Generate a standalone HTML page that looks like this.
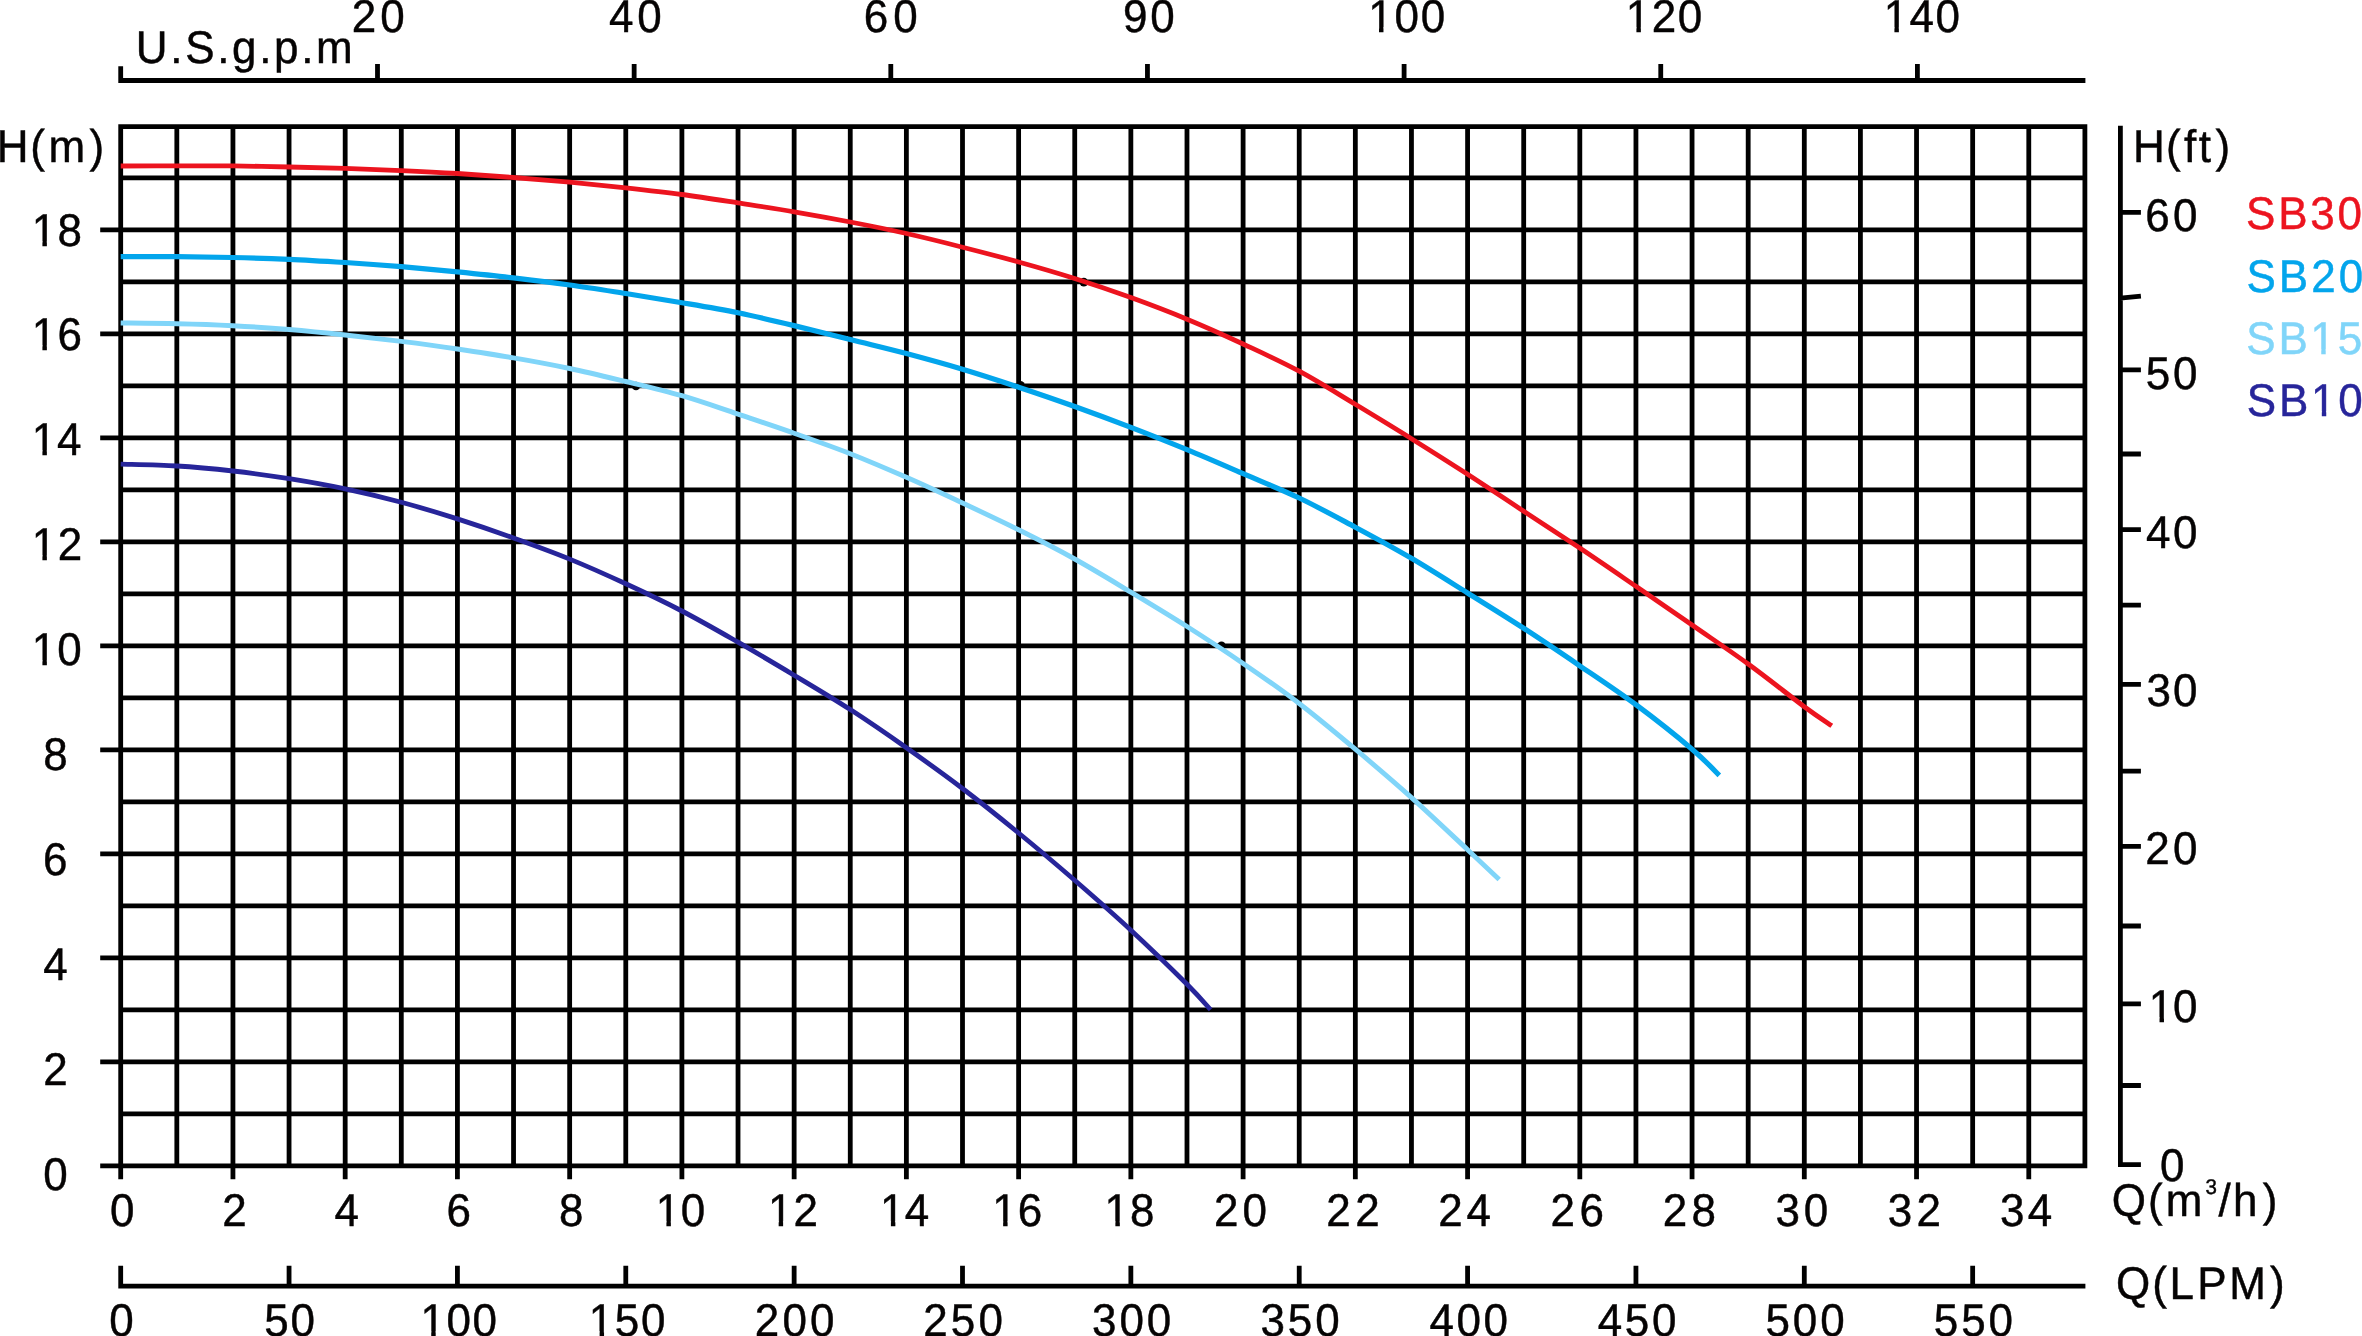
<!DOCTYPE html>
<html><head><meta charset="utf-8"><title>Pump performance curves</title>
<style>
html,body{margin:0;padding:0;background:#fff;}
body{width:2362px;height:1336px;overflow:hidden;}
svg{display:block;font-family:"Liberation Sans",sans-serif;}
text{white-space:pre;text-rendering:geometricPrecision;}
#txt{opacity:0.999;}
</style></head><body>
<svg width="2362" height="1336" viewBox="0 0 2362 1336">
<rect width="2362" height="1336" fill="#fff"/>
<path d="M120.70 124.20V1179.20M176.82 124.20V1168.20M232.94 124.20V1179.20M289.06 124.20V1168.20M345.18 124.20V1179.20M401.30 124.20V1168.20M457.42 124.20V1179.20M513.54 124.20V1168.20M569.66 124.20V1179.20M625.78 124.20V1168.20M681.90 124.20V1179.20M738.02 124.20V1168.20M794.14 124.20V1179.20M850.26 124.20V1168.20M906.38 124.20V1179.20M962.50 124.20V1168.20M1018.62 124.20V1179.20M1074.74 124.20V1168.20M1130.86 124.20V1179.20M1186.98 124.20V1168.20M1243.10 124.20V1179.20M1299.22 124.20V1168.20M1355.34 124.20V1179.20M1411.46 124.20V1168.20M1467.58 124.20V1179.20M1523.70 124.20V1168.20M1579.82 124.20V1179.20M1635.94 124.20V1168.20M1692.06 124.20V1179.20M1748.18 124.20V1168.20M1804.30 124.20V1179.20M1860.42 124.20V1168.20M1916.54 124.20V1179.20M1972.66 124.20V1168.20M2028.78 124.20V1179.20M2084.90 124.20V1168.20M100.20 1165.80H2087.30M118.30 1113.80H2087.30M100.20 1061.80H2087.30M118.30 1009.80H2087.30M100.20 957.80H2087.30M118.30 905.80H2087.30M100.20 853.80H2087.30M118.30 801.80H2087.30M100.20 749.80H2087.30M118.30 697.80H2087.30M100.20 645.80H2087.30M118.30 593.80H2087.30M100.20 541.80H2087.30M118.30 489.80H2087.30M100.20 437.80H2087.30M118.30 385.80H2087.30M100.20 333.80H2087.30M118.30 281.80H2087.30M100.20 229.80H2087.30M118.30 177.80H2087.30M118.30 126.60H2087.30" stroke="#000" stroke-width="4.8" fill="none"/>
<path d="M118.30 80.5H2085.40M120.70 80.5V66.2M377.50 80.5V64M634.15 80.5V64M890.80 80.5V64M1147.45 80.5V64M1404.10 80.5V64M1660.75 80.5V64M1917.40 80.5V64" stroke="#000" stroke-width="4.8" fill="none"/>
<path d="M118.30 1286.2H2085.40M120.70 1286.2V1265.8M289.06 1286.2V1265.8M457.42 1286.2V1265.8M625.78 1286.2V1265.8M794.14 1286.2V1265.8M962.50 1286.2V1265.8M1130.86 1286.2V1265.8M1299.22 1286.2V1265.8M1467.58 1286.2V1265.8M1635.94 1286.2V1265.8M1804.30 1286.2V1265.8M1972.66 1286.2V1265.8" stroke="#000" stroke-width="4.8" fill="none"/>
<path d="M2120.4 125.8V1167.10M2120.4 212.40H2140.9M2120.4 298.20L2140.9 296.20M2120.4 369.80H2140.9M2120.4 454.00H2140.9M2120.4 529.60H2140.9M2120.4 605.10H2140.9M2120.4 684.30H2140.9M2120.4 771.20H2140.9M2120.4 846.40H2140.9M2120.4 926.00H2140.9M2120.4 1003.90H2140.9M2120.4 1085.50H2140.9M2120.4 1164.70H2140.9" stroke="#000" stroke-width="4.8" fill="none"/>
<circle cx="1083.8" cy="282.1" r="4.3" fill="#000"/>
<circle cx="636.0" cy="386.0" r="4.3" fill="#000"/>
<circle cx="1221.5" cy="645.8" r="4.3" fill="#000"/>
<circle cx="1020.5" cy="385.3" r="4.3" fill="#000"/>
<path d="M120.7 166.0C130.1 166.0 158.1 165.8 176.8 165.8C195.5 165.8 214.2 165.7 232.9 165.9C251.6 166.1 270.4 166.6 289.1 167.0C307.8 167.4 326.5 167.8 345.2 168.4C363.9 169.0 382.6 169.8 401.3 170.6C420.0 171.4 438.7 172.3 457.4 173.5C476.1 174.7 494.8 176.1 513.5 177.5C532.2 178.9 551.0 180.5 569.7 182.2C588.4 183.9 607.1 185.8 625.8 187.8C644.5 189.9 663.2 192.0 681.9 194.5C700.6 197.0 719.3 200.0 738.0 202.9C756.7 205.8 775.4 208.6 794.1 211.8C812.8 215.0 831.6 218.4 850.3 222.0C869.0 225.6 887.7 229.3 906.4 233.5C925.1 237.7 943.8 242.4 962.5 247.2C981.2 251.9 999.9 256.8 1018.6 262.0C1037.3 267.2 1056.0 272.6 1074.7 278.5C1093.4 284.4 1112.2 290.8 1130.9 297.6C1149.6 304.4 1168.3 311.5 1187.0 319.2C1205.7 326.9 1224.4 335.3 1243.1 344.0C1261.8 352.7 1280.5 361.1 1299.2 371.2C1317.9 381.2 1336.6 393.1 1355.3 404.3C1374.0 415.6 1392.8 427.0 1411.5 438.7C1430.2 450.4 1448.9 462.2 1467.6 474.3C1486.3 486.4 1505.0 498.9 1523.7 511.2C1542.4 523.5 1561.1 535.6 1579.8 548.1C1598.5 560.6 1617.2 573.5 1635.9 586.3C1654.6 599.1 1673.4 612.0 1692.1 625.0C1710.8 638.0 1729.5 650.4 1748.2 664.0C1766.9 677.6 1790.4 696.4 1804.3 706.7C1818.2 717.0 1827.2 722.6 1831.8 725.8" stroke="#ec141f" stroke-width="4.8" fill="none" stroke-linecap="butt"/>
<path d="M120.7 256.6C130.1 256.6 158.1 256.6 176.8 256.7C195.5 256.8 214.2 257.1 232.9 257.5C251.6 257.9 270.4 258.5 289.1 259.3C307.8 260.1 326.5 261.3 345.2 262.5C363.9 263.7 382.6 265.1 401.3 266.7C420.0 268.3 438.7 270.0 457.4 271.9C476.1 273.8 494.8 275.7 513.5 277.9C532.2 280.1 551.0 282.4 569.7 285.0C588.4 287.6 607.1 290.6 625.8 293.5C644.5 296.4 663.2 299.5 681.9 302.7C700.6 305.9 719.3 309.0 738.0 312.8C756.7 316.6 775.4 321.1 794.1 325.6C812.8 330.1 831.6 334.9 850.3 339.6C869.0 344.3 887.7 348.7 906.4 353.6C925.1 358.6 943.8 363.7 962.5 369.3C981.2 374.9 999.9 381.0 1018.6 387.2C1037.3 393.4 1056.0 399.8 1074.7 406.5C1093.4 413.2 1112.2 420.2 1130.9 427.4C1149.6 434.6 1168.3 442.0 1187.0 449.7C1205.7 457.4 1224.4 465.6 1243.1 473.7C1261.8 481.8 1280.5 489.1 1299.2 498.0C1317.9 506.9 1336.6 517.2 1355.3 527.2C1374.0 537.2 1392.8 547.3 1411.5 558.3C1430.2 569.3 1448.9 581.3 1467.6 593.0C1486.3 604.7 1505.0 616.2 1523.7 628.3C1542.4 640.4 1561.1 653.1 1579.8 665.8C1598.5 678.5 1617.2 690.8 1635.9 704.7C1654.6 718.6 1678.2 737.4 1692.1 749.2C1706.0 761.0 1714.8 771.0 1719.3 775.4" stroke="#03a5ec" stroke-width="5.2" fill="none" stroke-linecap="butt"/>
<path d="M120.7 323.0C130.1 323.1 158.1 323.2 176.8 323.7C195.5 324.1 214.2 324.7 232.9 325.7C251.6 326.7 270.4 327.9 289.1 329.5C307.8 331.1 326.5 333.0 345.2 335.0C363.9 337.0 382.6 339.1 401.3 341.4C420.0 343.7 438.7 346.2 457.4 349.0C476.1 351.8 494.8 354.6 513.5 357.9C532.2 361.1 551.0 364.6 569.7 368.5C588.4 372.4 607.1 377.0 625.8 381.5C644.5 386.0 663.2 390.3 681.9 395.7C700.6 401.1 719.3 407.9 738.0 414.1C756.7 420.4 775.4 426.6 794.1 433.2C812.8 439.8 831.6 446.3 850.3 453.7C869.0 461.1 887.7 469.1 906.4 477.3C925.1 485.5 943.8 494.2 962.5 503.0C981.2 511.8 999.9 520.5 1018.6 529.8C1037.3 539.1 1056.0 548.6 1074.7 559.0C1093.4 569.4 1112.2 580.9 1130.9 592.1C1149.6 603.4 1168.3 614.6 1187.0 626.5C1205.7 638.4 1224.4 650.6 1243.1 663.4C1261.8 676.2 1280.5 689.2 1299.2 703.5C1317.9 717.8 1336.6 733.5 1355.3 749.2C1374.0 764.9 1392.8 780.9 1411.5 797.6C1430.2 814.4 1453.0 836.1 1467.6 849.7C1482.2 863.4 1493.9 874.5 1499.2 879.5" stroke="#80d5f9" stroke-width="4.9" fill="none" stroke-linecap="butt"/>
<path d="M120.7 464.2C130.1 464.5 158.1 464.9 176.8 466.0C195.5 467.1 214.2 468.9 232.9 471.0C251.6 473.1 270.4 475.7 289.1 478.7C307.8 481.7 326.5 485.0 345.2 488.9C363.9 492.8 382.6 497.3 401.3 502.3C420.0 507.3 438.7 512.9 457.4 518.9C476.1 524.9 494.8 531.3 513.5 538.0C532.2 544.7 551.0 551.5 569.7 559.1C588.4 566.7 607.1 575.1 625.8 583.8C644.5 592.4 663.2 601.3 681.9 611.0C700.6 620.7 719.3 631.5 738.0 642.2C756.7 652.9 775.4 664.0 794.1 675.2C812.8 686.4 831.6 697.5 850.3 709.6C869.0 721.7 887.7 734.6 906.4 747.8C925.1 760.9 943.8 774.3 962.5 788.5C981.2 802.7 999.9 817.7 1018.6 833.0C1037.3 848.3 1056.0 864.1 1074.7 880.3C1093.4 896.5 1112.2 912.9 1130.9 930.2C1149.6 947.5 1173.7 971.0 1187.0 984.2C1200.3 997.5 1206.7 1005.5 1210.6 1009.7" stroke="#27259a" stroke-width="4.8" fill="none" stroke-linecap="butt"/>
<g id="txt">
<text transform="translate(351.79 32.00) scale(1 1.04)" font-size="44" letter-spacing="3.99" fill="#050303" stroke="#050303" stroke-width="0.45">20</text>
<text transform="translate(608.99 32.00) scale(1 1.04)" font-size="44" letter-spacing="3.79" fill="#050303" stroke="#050303" stroke-width="0.45">40</text>
<text transform="translate(863.77 32.00) scale(1 1.04)" font-size="44" letter-spacing="5.01" fill="#050303" stroke="#050303" stroke-width="0.45">60</text>
<text transform="translate(1122.94 32.00) scale(1 1.04)" font-size="44" letter-spacing="2.84" fill="#050303" stroke="#050303" stroke-width="0.45">90</text>
<text transform="translate(1368.24 32.00) scale(1 1.04)" font-size="44" letter-spacing="1.78" fill="#050303" stroke="#050303" stroke-width="0.45">100</text>
<text transform="translate(1625.64 32.00) scale(1 1.04)" font-size="44" letter-spacing="1.63" fill="#050303" stroke="#050303" stroke-width="0.45">120</text>
<text transform="translate(1883.64 32.00) scale(1 1.04)" font-size="44" letter-spacing="1.48" fill="#050303" stroke="#050303" stroke-width="0.45">140</text>
<text transform="translate(135.81 63.00) scale(1 1.04)" font-size="44" letter-spacing="2.66" fill="#050303" stroke="#050303" stroke-width="0.45">U.S.g.p.m</text>
<text transform="translate(31.64 246.00) scale(1 1.04)" font-size="44" letter-spacing="1.43" fill="#050303" stroke="#050303" stroke-width="0.45">18</text>
<text transform="translate(31.64 350.00) scale(1 1.04)" font-size="44" letter-spacing="1.45" fill="#050303" stroke="#050303" stroke-width="0.45">16</text>
<text transform="translate(31.64 455.00) scale(1 1.04)" font-size="44" letter-spacing="0.81" fill="#050303" stroke="#050303" stroke-width="0.45">14</text>
<text transform="translate(31.64 560.00) scale(1 1.04)" font-size="44" letter-spacing="1.73" fill="#050303" stroke="#050303" stroke-width="0.45">12</text>
<text transform="translate(31.64 665.00) scale(1 1.04)" font-size="44" letter-spacing="1.24" fill="#050303" stroke="#050303" stroke-width="0.45">10</text>
<text transform="translate(43.16 770.00) scale(1 1.04)" font-size="44" letter-spacing="0.00" fill="#050303" stroke="#050303" stroke-width="0.45">8</text>
<text transform="translate(43.01 875.00) scale(1 1.04)" font-size="44" letter-spacing="0.00" fill="#050303" stroke="#050303" stroke-width="0.45">6</text>
<text transform="translate(43.30 980.00) scale(1 1.04)" font-size="44" letter-spacing="0.00" fill="#050303" stroke="#050303" stroke-width="0.45">4</text>
<text transform="translate(43.16 1085.00) scale(1 1.04)" font-size="44" letter-spacing="0.00" fill="#050303" stroke="#050303" stroke-width="0.45">2</text>
<text transform="translate(43.16 1190.00) scale(1 1.04)" font-size="44" letter-spacing="0.00" fill="#050303" stroke="#050303" stroke-width="0.45">0</text>
<text transform="translate(0 162.00) scale(1 1.04)" x="-3.30 30.24 48.61 89.51" y="0" font-size="44" fill="#050303" stroke="#050303" stroke-width="0.45">H(m)</text>
<text transform="translate(0 162.00) scale(1 1.04)" x="2132.95 2166.04 2183.99 2198.82 2215.56" y="0" font-size="44" fill="#050303" stroke="#050303" stroke-width="0.45">H(ft)</text>
<text transform="translate(2145.27 231.00) scale(1 1.04)" font-size="44" letter-spacing="3.31" fill="#050303" stroke="#050303" stroke-width="0.45">60</text>
<text transform="translate(2145.84 389.00) scale(1 1.04)" font-size="44" letter-spacing="2.74" fill="#050303" stroke="#050303" stroke-width="0.45">50</text>
<text transform="translate(2145.99 548.00) scale(1 1.04)" font-size="44" letter-spacing="2.59" fill="#050303" stroke="#050303" stroke-width="0.45">40</text>
<text transform="translate(2146.52 706.00) scale(1 1.04)" font-size="44" letter-spacing="2.05" fill="#050303" stroke="#050303" stroke-width="0.45">30</text>
<text transform="translate(2145.29 864.00) scale(1 1.04)" font-size="44" letter-spacing="3.29" fill="#050303" stroke="#050303" stroke-width="0.45">20</text>
<text transform="translate(2148.74 1022.00) scale(1 1.04)" font-size="44" letter-spacing="-0.16" fill="#050303" stroke="#050303" stroke-width="0.45">10</text>
<text transform="translate(2159.91 1181.00) scale(1 1.04)" font-size="44" letter-spacing="0.00" fill="#050303" stroke="#050303" stroke-width="0.45">0</text>
<text transform="translate(2246.00 229.00) scale(1 1.04)" font-size="44" letter-spacing="2.79" fill="#ec141f" stroke="#ec141f" stroke-width="0.45">SB30</text>
<text transform="translate(2246.50 292.00) scale(1 1.04)" font-size="44" letter-spacing="2.99" fill="#03a5ec" stroke="#03a5ec" stroke-width="0.45">SB20</text>
<text transform="translate(2246.30 354.00) scale(1 1.04)" font-size="44" letter-spacing="2.74" fill="#80d5f9" stroke="#80d5f9" stroke-width="0.45">SB15</text>
<text transform="translate(2246.80 416.00) scale(1 1.04)" font-size="44" letter-spacing="2.76" fill="#27259a" stroke="#27259a" stroke-width="0.45">SB10</text>
<text transform="translate(109.96 1226.00) scale(1 1.04)" font-size="44" letter-spacing="0.00" fill="#050303" stroke="#050303" stroke-width="0.45">0</text>
<text transform="translate(222.20 1226.00) scale(1 1.04)" font-size="44" letter-spacing="0.00" fill="#050303" stroke="#050303" stroke-width="0.45">2</text>
<text transform="translate(334.58 1226.00) scale(1 1.04)" font-size="44" letter-spacing="0.00" fill="#050303" stroke="#050303" stroke-width="0.45">4</text>
<text transform="translate(446.53 1226.00) scale(1 1.04)" font-size="44" letter-spacing="0.00" fill="#050303" stroke="#050303" stroke-width="0.45">6</text>
<text transform="translate(558.92 1226.00) scale(1 1.04)" font-size="44" letter-spacing="0.00" fill="#050303" stroke="#050303" stroke-width="0.45">8</text>
<text transform="translate(655.64 1226.00) scale(1 1.04)" font-size="44" letter-spacing="0.64" fill="#050303" stroke="#050303" stroke-width="0.45">10</text>
<text transform="translate(767.88 1226.00) scale(1 1.04)" font-size="44" letter-spacing="1.13" fill="#050303" stroke="#050303" stroke-width="0.45">12</text>
<text transform="translate(880.12 1226.00) scale(1 1.04)" font-size="44" letter-spacing="0.21" fill="#050303" stroke="#050303" stroke-width="0.45">14</text>
<text transform="translate(992.36 1226.00) scale(1 1.04)" font-size="44" letter-spacing="0.85" fill="#050303" stroke="#050303" stroke-width="0.45">16</text>
<text transform="translate(1104.60 1226.00) scale(1 1.04)" font-size="44" letter-spacing="0.83" fill="#050303" stroke="#050303" stroke-width="0.45">18</text>
<text transform="translate(1213.89 1226.00) scale(1 1.04)" font-size="44" letter-spacing="4.09" fill="#050303" stroke="#050303" stroke-width="0.45">20</text>
<text transform="translate(1326.13 1226.00) scale(1 1.04)" font-size="44" letter-spacing="4.58" fill="#050303" stroke="#050303" stroke-width="0.45">22</text>
<text transform="translate(1438.37 1226.00) scale(1 1.04)" font-size="44" letter-spacing="3.66" fill="#050303" stroke="#050303" stroke-width="0.45">24</text>
<text transform="translate(1550.61 1226.00) scale(1 1.04)" font-size="44" letter-spacing="4.31" fill="#050303" stroke="#050303" stroke-width="0.45">26</text>
<text transform="translate(1662.85 1226.00) scale(1 1.04)" font-size="44" letter-spacing="4.28" fill="#050303" stroke="#050303" stroke-width="0.45">28</text>
<text transform="translate(1775.62 1226.00) scale(1 1.04)" font-size="44" letter-spacing="3.55" fill="#050303" stroke="#050303" stroke-width="0.45">30</text>
<text transform="translate(1887.86 1226.00) scale(1 1.04)" font-size="44" letter-spacing="4.05" fill="#050303" stroke="#050303" stroke-width="0.45">32</text>
<text transform="translate(2000.10 1226.00) scale(1 1.04)" font-size="44" letter-spacing="3.12" fill="#050303" stroke="#050303" stroke-width="0.45">34</text>
<text transform="translate(0 1216.00) scale(1 1.04)" x="2111.70 2147.94 2165.76" y="0" font-size="44" fill="#050303" stroke="#050303" stroke-width="0.45">Q(m</text>
<text transform="translate(0 1216.00) scale(1 1.04)" x="2218.39 2233.12 2262.66" y="0" font-size="44" fill="#050303" stroke="#050303" stroke-width="0.45">/h)</text>
<text transform="translate(2205.61 1194.00) scale(1 1.04)" font-size="20.5" letter-spacing="0.00" fill="#050303" stroke="#050303" stroke-width="0.45">3</text>
<text transform="translate(0 1299.00) scale(1 1.04)" x="2115.90 2152.19 2169.54 2197.33 2229.27 2270.11" y="0" font-size="44" fill="#050303" stroke="#050303" stroke-width="0.45">Q(LPM)</text>
<text transform="translate(109.36 1336.00) scale(1 1.04)" font-size="44" letter-spacing="0.00" fill="#050303" stroke="#050303" stroke-width="0.45">0</text>
<text transform="translate(264.20 1336.00) scale(1 1.04)" font-size="44" letter-spacing="1.94" fill="#050303" stroke="#050303" stroke-width="0.45">50</text>
<text transform="translate(420.46 1336.00) scale(1 1.04)" font-size="44" letter-spacing="1.58" fill="#050303" stroke="#050303" stroke-width="0.45">100</text>
<text transform="translate(588.82 1336.00) scale(1 1.04)" font-size="44" letter-spacing="1.58" fill="#050303" stroke="#050303" stroke-width="0.45">150</text>
<text transform="translate(754.83 1336.00) scale(1 1.04)" font-size="44" letter-spacing="3.16" fill="#050303" stroke="#050303" stroke-width="0.45">200</text>
<text transform="translate(923.19 1336.00) scale(1 1.04)" font-size="44" letter-spacing="3.16" fill="#050303" stroke="#050303" stroke-width="0.45">250</text>
<text transform="translate(1092.08 1336.00) scale(1 1.04)" font-size="44" letter-spacing="2.89" fill="#050303" stroke="#050303" stroke-width="0.45">300</text>
<text transform="translate(1260.44 1336.00) scale(1 1.04)" font-size="44" letter-spacing="2.89" fill="#050303" stroke="#050303" stroke-width="0.45">350</text>
<text transform="translate(1429.47 1336.00) scale(1 1.04)" font-size="44" letter-spacing="2.56" fill="#050303" stroke="#050303" stroke-width="0.45">400</text>
<text transform="translate(1597.83 1336.00) scale(1 1.04)" font-size="44" letter-spacing="2.56" fill="#050303" stroke="#050303" stroke-width="0.45">450</text>
<text transform="translate(1765.44 1336.00) scale(1 1.04)" font-size="44" letter-spacing="2.93" fill="#050303" stroke="#050303" stroke-width="0.45">500</text>
<text transform="translate(1933.80 1336.00) scale(1 1.04)" font-size="44" letter-spacing="2.93" fill="#050303" stroke="#050303" stroke-width="0.45">550</text>
</g>
<path d="M1370.39 27.18H1379.02V34.40H1370.39ZM1383.47 27.18H1391.76V34.40H1383.47ZM1627.79 27.18H1636.42V34.40H1627.79ZM1640.87 27.18H1649.16V34.40H1640.87ZM1885.79 27.18H1894.42V34.40H1885.79ZM1898.87 27.18H1907.16V34.40H1898.87ZM33.79 241.18H42.42V248.40H33.79ZM46.87 241.18H55.16V248.40H46.87ZM33.79 345.18H42.42V352.40H33.79ZM46.87 345.18H55.16V352.40H46.87ZM33.79 450.18H42.42V457.40H33.79ZM46.87 450.18H55.16V457.40H46.87ZM33.79 555.18H42.42V562.40H33.79ZM46.87 555.18H55.16V562.40H46.87ZM33.79 660.18H42.42V667.40H33.79ZM46.87 660.18H55.16V667.40H46.87ZM2150.89 1017.18H2159.52V1024.40H2150.89ZM2163.97 1017.18H2172.26V1024.40H2163.97ZM2312.62 349.18H2321.25V356.40H2312.62ZM2325.70 349.18H2333.99V356.40H2325.70ZM2313.17 411.18H2321.80V418.40H2313.17ZM2326.25 411.18H2334.54V418.40H2326.25ZM657.79 1221.18H666.42V1228.40H657.79ZM670.87 1221.18H679.16V1228.40H670.87ZM770.03 1221.18H778.66V1228.40H770.03ZM783.11 1221.18H791.40V1228.40H783.11ZM882.27 1221.18H890.90V1228.40H882.27ZM895.35 1221.18H903.64V1228.40H895.35ZM994.51 1221.18H1003.14V1228.40H994.51ZM1007.59 1221.18H1015.88V1228.40H1007.59ZM1106.75 1221.18H1115.38V1228.40H1106.75ZM1119.83 1221.18H1128.12V1228.40H1119.83ZM422.61 1331.18H431.24V1338.40H422.61ZM435.69 1331.18H443.98V1338.40H435.69ZM590.97 1331.18H599.60V1338.40H590.97ZM604.05 1331.18H612.34V1338.40H604.05Z" fill="#fff"/>
</svg>
</body></html>
